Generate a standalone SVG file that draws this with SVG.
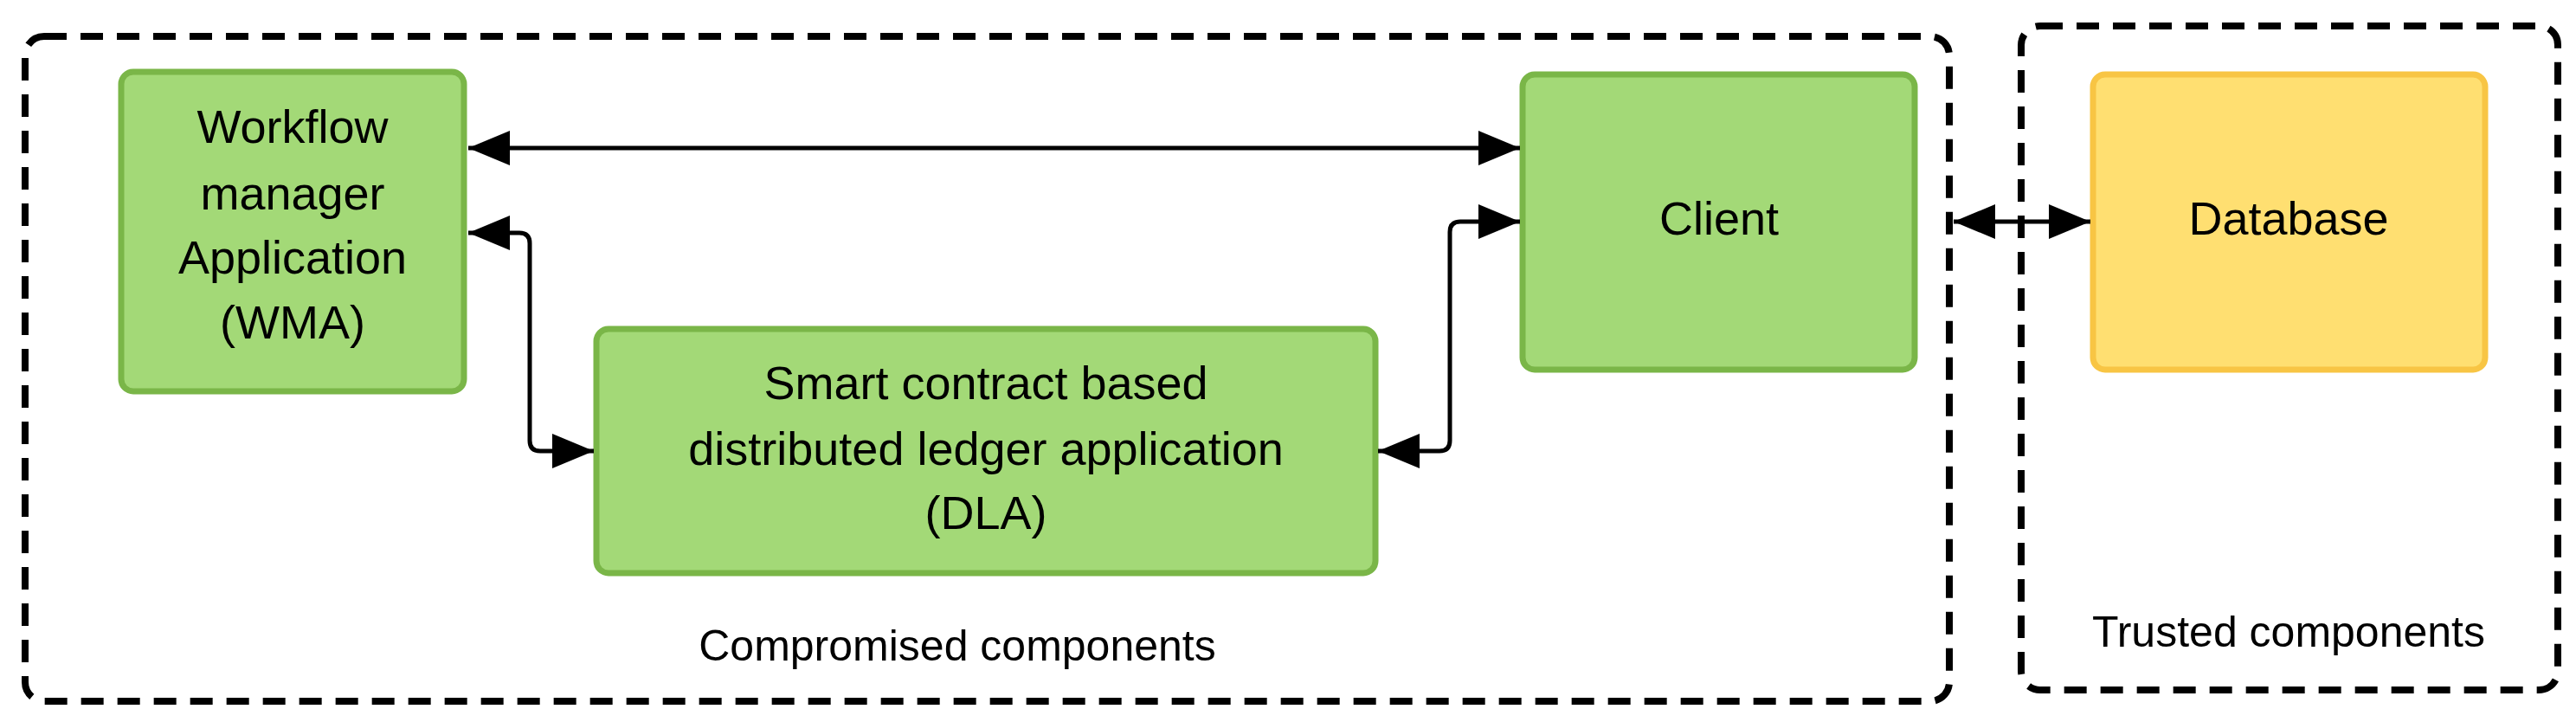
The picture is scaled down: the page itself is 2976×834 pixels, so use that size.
<svg xmlns="http://www.w3.org/2000/svg" width="2976" height="834" viewBox="0 0 2976 834">
<style>
.grp{fill:none;stroke:#000;stroke-width:8;stroke-dasharray:26 16}
.g{fill:#a3d977;stroke:#7ab648;stroke-width:7}
.y{fill:#ffdf71;stroke:#f8c544;stroke-width:7}
text{font-family:"Liberation Sans",Arial,sans-serif;fill:#000;text-anchor:middle}
.n{font-size:54px}
.l{font-size:50px}
.c{fill:none;stroke:#000;stroke-width:5}
</style>
<defs>
<marker id="a" markerUnits="userSpaceOnUse" markerWidth="50" markerHeight="40" refX="48" refY="20" orient="auto-start-reverse">
<path d="M0,0 L48,20 L0,40 Z" fill="#000"/>
</marker>
</defs>
<g id="compromised">
<rect class="grp" x="29" y="42" width="2223" height="768" rx="22"/>
<text class="l" x="1106" y="763">Compromised components</text>
</g>
<g id="trusted">
<rect class="grp" x="2335" y="30" width="620" height="767" rx="22"/>
<text class="l" x="2644" y="747">Trusted components</text>
</g>
<g id="wma">
<rect class="g" x="140" y="83" width="396" height="369" rx="14"/>
<text class="n" x="338" y="165">Workflow</text>
<text class="n" x="338" y="242">manager</text>
<text class="n" x="338" y="316">Application</text>
<text class="n" x="338" y="391">(WMA)</text>
</g>
<g id="dla">
<rect class="g" x="689" y="380" width="900" height="282" rx="14"/>
<text class="n" x="1139" y="461">Smart contract based</text>
<text class="n" x="1139" y="537">distributed ledger application</text>
<text class="n" x="1139" y="611">(DLA)</text>
</g>
<g id="client">
<rect class="g" x="1759" y="86" width="453" height="341" rx="14"/>
<text class="n" x="1986" y="271">Client</text>
</g>
<g id="database">
<rect class="y" x="2418" y="86" width="453" height="341" rx="14"/>
<text class="n" x="2644" y="271">Database</text>
</g>
<g id="connectors">
<path class="c" d="M541,171 L1756,171" marker-start="url(#a)" marker-end="url(#a)"/>
<path class="c" d="M541,269 L600,269 Q612,269 612,281 L612,509 Q612,521 624,521 L686,521" marker-start="url(#a)" marker-end="url(#a)"/>
<path class="c" d="M1592,521 L1663,521 Q1675,521 1675,509 L1675,268 Q1675,256 1687,256 L1756,256" marker-start="url(#a)" marker-end="url(#a)"/>
<path class="c" d="M2257,256 L2415,256" marker-start="url(#a)" marker-end="url(#a)"/>
</g>
</svg>
